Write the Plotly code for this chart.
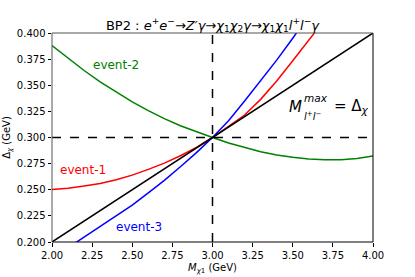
import plotly.graph_objects as go

# Data
x_black = [2.0, 4.0]
y_black = [0.2, 0.4]

x_red = [2.0, 2.1, 2.2, 2.3, 2.4, 2.5, 2.6, 2.7, 2.8, 2.9, 3.0, 3.1, 3.2, 3.3, 3.4, 3.5, 3.6, 3.65]
y_red = [0.2503, 0.2515, 0.2535, 0.2560, 0.2595, 0.2640, 0.2695, 0.2755, 0.2825, 0.2905, 0.3000,
         0.3105, 0.3215, 0.3365, 0.3540, 0.3735, 0.3935, 0.4030]

x_blue = [2.1, 2.15, 2.2, 2.3, 2.4, 2.5, 2.6, 2.7, 2.8, 2.9, 3.0, 3.1, 3.2, 3.3, 3.4, 3.5, 3.55]
y_blue = [0.1945, 0.1995, 0.2045, 0.2145, 0.2245, 0.2353, 0.2470, 0.2590, 0.2720, 0.2855, 0.3000,
          0.3160, 0.3350, 0.3545, 0.3740, 0.3950, 0.4060]

x_green = [2.0, 2.1, 2.2, 2.3, 2.4, 2.5, 2.6, 2.7, 2.8, 2.9, 3.0, 3.1, 3.2, 3.3, 3.4, 3.5,
           3.6, 3.7, 3.8, 3.9, 4.0]
y_green = [0.3880, 0.3757, 0.3641, 0.3533, 0.3433, 0.3341, 0.3257, 0.3181, 0.3113, 0.3053, 0.3000,
           0.2947, 0.2902, 0.2864, 0.2833, 0.2810, 0.2795, 0.2786, 0.2786, 0.2800, 0.2823]

x_ticks = [2.0, 2.25, 2.5, 2.75, 3.0, 3.25, 3.5, 3.75, 4.0]
y_ticks = [0.2, 0.225, 0.25, 0.275, 0.3, 0.325, 0.35, 0.375, 0.4]
x_ref = 3.0
y_ref = 0.3

FONT = "DejaVu Sans"

fig = go.Figure()
fig.add_trace(go.Scatter(x=x_green, y=y_green, mode="lines", line=dict(color="green", width=1.5)))
fig.add_trace(go.Scatter(x=x_red, y=y_red, mode="lines", line=dict(color="red", width=1.5)))
fig.add_trace(go.Scatter(x=x_blue, y=y_blue, mode="lines", line=dict(color="blue", width=1.5)))
fig.add_trace(go.Scatter(x=x_black, y=y_black, mode="lines", line=dict(color="black", width=1.5)))

# dashed reference lines
fig.add_shape(type="line", xref="x", yref="paper", x0=x_ref, x1=x_ref, y0=0, y1=1,
              line=dict(color="black", width=1.5, dash="dash"))
fig.add_shape(type="line", xref="paper", yref="y", x0=0, x1=1, y0=y_ref, y1=y_ref,
              line=dict(color="black", width=1.5, dash="dash"))

# frame
for (x0, y0, x1, y1, c) in [(0, 0, 1, 0, "black"), (1, 0, 1, 1, "black"),
                            (0, 1, 1, 1, "#555555"), (0, 0, 0, 1, "#555555")]:
    fig.add_shape(type="line", xref="paper", yref="paper", x0=x0, y0=y0, x1=x1, y1=y1,
                  line=dict(color=c, width=1))

fig.add_annotation(x=2.40, y=0.3694, xref="x", yref="y", text="event-2", showarrow=False,
                   font=dict(family=FONT, size=12, color="green"))
fig.add_annotation(x=2.196, y=0.2689, xref="x", yref="y", text="event-1", showarrow=False,
                   font=dict(family=FONT, size=12, color="red"))
fig.add_annotation(x=2.545, y=0.2144, xref="x", yref="y", text="event-3", showarrow=False,
                   font=dict(family=FONT, size=12, color="blue"))

# M^max_{l+l-} = Δχ, assembled from pieces
fig.add_annotation(x=3.52, y=0.3292, xref="x", yref="y", text="<i>M</i>", showarrow=False,
                   font=dict(family=FONT, size=15, color="black"))
fig.add_annotation(x=3.560, y=0.3375, xref="x", yref="y", xanchor="left", text="<i>max</i>",
                   showarrow=False, font=dict(family=FONT, size=10.5, color="black"))
fig.add_annotation(x=3.560, y=0.3203, xref="x", yref="y", xanchor="left",
                   text="<i>l</i><sup>+</sup><i>l</i><sup>−</sup>",
                   showarrow=False, font=dict(family=FONT, size=10, color="black"))
fig.add_annotation(x=3.742, y=0.3292, xref="x", yref="y", xanchor="left",
                   text="= Δ<sub><i>χ</i></sub>",
                   showarrow=False, font=dict(family=FONT, size=15, color="black"))

fig.update_layout(
    width=415, height=277,
    margin=dict(l=52, r=42, t=33, b=35),
    paper_bgcolor="white", plot_bgcolor="white",
    showlegend=False,
    font=dict(family=FONT, size=10, color="black"),
    title=dict(
        text="BP2 : <i>e</i><sup>+</sup><i>e</i><sup>−</sup>→<i>Z′γ</i>→<i>χ</i><sub>1</sub><i>χ</i><sub>2</sub><i>γ</i>→<i>χ</i><sub>1</sub><i>χ</i><sub>1</sub><i>l</i><sup>+</sup><i>l</i><sup>−</sup><i>γ</i>",
        x=0.5, xref="paper", xanchor="center", y=1 - 25 / 277, yanchor="middle",
        font=dict(family=FONT, size=13, color="black")),
    xaxis=dict(range=[2.0, 4.0], tickvals=x_ticks, tickformat=".2f", ticks="outside",
               ticklen=3.5, tickcolor="black", showgrid=False, zeroline=False, showline=False,
               automargin=False,
               title=dict(text="<i>M</i><sub><i>χ</i>1</sub> (GeV)", standoff=4,
                          font=dict(family=FONT, size=10))),
    yaxis=dict(range=[0.2, 0.4], tickvals=y_ticks, tickformat=".3f", ticks="outside",
               ticklen=3.5, tickcolor="black", showgrid=False, zeroline=False, showline=False,
               automargin=False,
               title=dict(text="Δ<sub><i>χ</i></sub> (GeV)", standoff=4,
                          font=dict(family=FONT, size=10))),
)

fig.write_html("out.html", config={"displayModeBar": False},
               post_script="document.body.style.margin='0';")
